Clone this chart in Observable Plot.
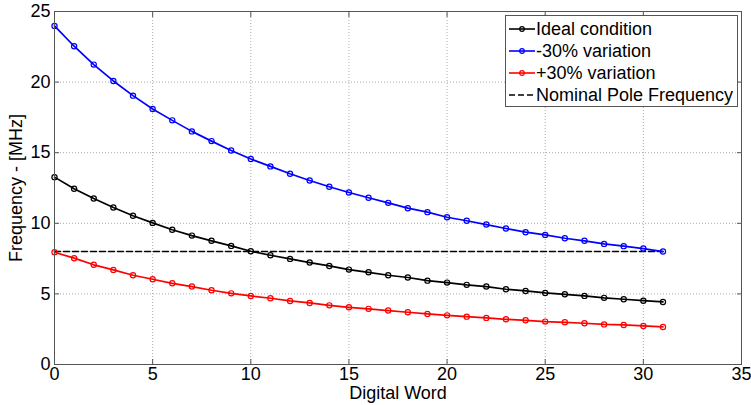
<!DOCTYPE html>
<html><head>
<meta charset="utf-8">
<script src="https://cdn.jsdelivr.net/npm/d3@7"></script>
<script src="https://cdn.jsdelivr.net/npm/@observablehq/plot@0.6"></script>
<style>
body{margin:0;background:#fff;font-family:"Liberation Sans",Arial,sans-serif}
#wrap{position:relative;width:751px;height:405px}
#legend{position:absolute;left:505px;top:15px;width:231px;height:90px;border:1px solid #555;background:#fff;font-size:18px;color:#000}
.row{position:absolute;left:2px;height:22px;display:flex;align-items:center;white-space:nowrap}
</style>
</head><body>
<div id="wrap"></div>
<script>
const words = [0,1,2,3,4,5,6,7,8,9,10,11,12,13,14,15,16,17,18,19,20,21,22,23,24,25,26,27,28,29,30,31];
const ideal = [13.27,12.45,11.76,11.12,10.53,10.03,9.54,9.13,8.76,8.40,8.02,7.74,7.48,7.22,6.98,6.72,6.53,6.32,6.16,5.94,5.80,5.64,5.52,5.33,5.21,5.07,4.97,4.86,4.72,4.62,4.52,4.43];
const minus30 = [23.98,22.54,21.24,20.08,19.04,18.09,17.29,16.51,15.82,15.16,14.55,14.03,13.51,13.03,12.59,12.18,11.81,11.45,11.07,10.79,10.43,10.18,9.91,9.63,9.37,9.18,8.94,8.76,8.54,8.38,8.21,8.00];
const plus30 = [7.95,7.53,7.06,6.70,6.32,6.04,5.75,5.52,5.26,5.04,4.86,4.69,4.50,4.36,4.19,4.05,3.94,3.82,3.70,3.58,3.48,3.39,3.30,3.20,3.13,3.04,2.99,2.92,2.84,2.80,2.73,2.66];
const nominalFreq = 8;
const nominalSpan = [0, 31];
const xTicks = [0,5,10,15,20,25,30,35];
const yTicks = [0,5,10,15,20,25];
const seriesNames = ["Ideal condition","-30% variation","+30% variation","Nominal Pole Frequency"];
const seriesColors = ["#000000","#0000ff","#ff0000","#000000"];

const mk = arr => words.map((w,i)=>({word:w, freq:arr[i]}));
const dIdeal = mk(ideal), dMinus = mk(minus30), dPlus = mk(plus30);
const dNom = nominalSpan.map(w=>({word:w, freq:nominalFreq}));

const seriesMarks = (data, color) => [
  Plot.line(data, {x:"word", y:"freq", stroke:color, strokeWidth:1.7}),
  Plot.dot(data, {x:"word", y:"freq", stroke:color, fill:"none", r:2.6, strokeWidth:1.2})
];

const plot = Plot.plot({
  width:751, height:405,
  marginLeft:54, marginRight:10, marginTop:11, marginBottom:41,
  style:{fontFamily:"Liberation Sans, Arial, sans-serif", fontSize:"18px", color:"#000", background:"#fff"},
  x:{domain:[0,35], ticks:xTicks},
  y:{domain:[0,25], ticks:yTicks},
  marks:[
    Plot.gridX(xTicks.slice(1,-1), {stroke:"#aaa", strokeOpacity:1, strokeDasharray:"1,2"}),
    Plot.gridY(yTicks.slice(1,-1), {stroke:"#aaa", strokeOpacity:1, strokeDasharray:"1,2"}),
    Plot.axisX(xTicks, {anchor:"bottom", tickSize:0, tickPadding:3, fontSize:18, label:"Digital Word", labelAnchor:"center", labelArrow:"none", labelOffset:34}),
    Plot.axisY(yTicks, {anchor:"left", tickSize:0, tickPadding:4, fontSize:18, label:"Frequency - [MHz]", labelAnchor:"center", labelArrow:"none", labelOffset:45}),
    Plot.axisX(xTicks, {anchor:"bottom", tickSize:-5, tickFormat:()=>"", label:null, stroke:"#555"}),
    Plot.axisX(xTicks, {anchor:"top", tickSize:-5, tickFormat:()=>"", label:null, stroke:"#555"}),
    Plot.axisY(yTicks, {anchor:"left", tickSize:-5, tickFormat:()=>"", label:null, stroke:"#555"}),
    Plot.axisY(yTicks, {anchor:"right", tickSize:-5, tickFormat:()=>"", label:null, stroke:"#555"}),
    Plot.line(dNom, {x:"word", y:"freq", stroke:"#000", strokeWidth:1.6, strokeDasharray:"6,3"}),
    ...seriesMarks(dIdeal, seriesColors[0]),
    ...seriesMarks(dMinus, seriesColors[1]),
    ...seriesMarks(dPlus, seriesColors[2]),
    Plot.frame({stroke:"#555", strokeWidth:1})
  ]
});
const wrap = document.getElementById("wrap");
wrap.appendChild(plot);

// legend
const leg = document.createElement("div");
leg.id = "legend";
seriesNames.forEach((name,i)=>{
  const row = document.createElement("div");
  row.className = "row";
  row.style.top = (2 + i*22) + "px";
  const svg = d3.create("svg").attr("width",28).attr("height",22);
  svg.append("line").attr("x1",1).attr("x2",27).attr("y1",11).attr("y2",11)
    .attr("stroke",seriesColors[i]).attr("stroke-width",1.6)
    .attr("stroke-dasharray", i===3 ? "6,3" : null);
  if(i<3) svg.append("circle").attr("cx",14).attr("cy",11).attr("r",2.3)
    .attr("fill","none").attr("stroke",seriesColors[i]).attr("stroke-width",1.2);
  row.appendChild(svg.node());
  const t = document.createElement("span");
  t.textContent = name;
  row.appendChild(t);
  leg.appendChild(row);
});
wrap.appendChild(leg);
</script>
</body></html>
